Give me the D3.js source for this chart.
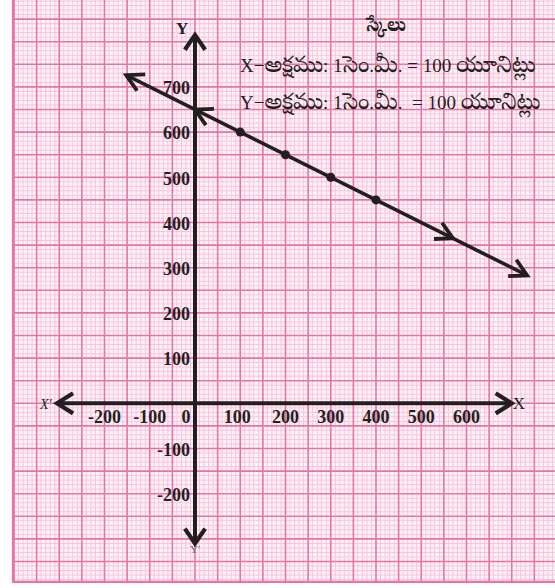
<!DOCTYPE html>
<html>
<head>
<meta charset="utf-8">
<script src="https://cdn.jsdelivr.net/npm/d3@7"></script>
<style>
  html, body { margin: 0; padding: 0; background: #ffffff; }
  svg { display: block; }
  .tick-label { font-family: "Liberation Serif", "Times New Roman", serif; font-weight: bold; font-size: 18px; fill: #231f20; }
  .scale-text { font-family: "Liberation Serif", "Noto Serif Telugu", "Noto Sans Telugu", serif; font-size: 19px; fill: #231f20; }
</style>
</head>
<body>
<svg id="chart" width="555" height="588"></svg>
<script>
// Plotted points of the line (x, y)
const pointX = [100, 200, 300, 400];
const pointY = [600, 550, 500, 450];

// Where the drawn line starts and stops, in axis units
const rayX = [-152, 734];
const rayY = [726, 283];

// Direction arrows placed along the line
const midArrowX = [0, 570];
const midArrowY = [650, 365];

// Axis tick labels
const xTicks = [-200, -100, 0, 100, 200, 300, 400, 500, 600];
const yTicks = [-200, -100, 100, 200, 300, 400, 500, 600, 700];

// Axis extents (arrow tips)
const xAxisEnds = [-305, 700];
const yAxisEnds = [-310, 815];

// Graph paper extents
const paperX = [-402, 800];
const paperY = [-395, 900];

// Scale legend
const scaleTitle = "స్కేలు";
const scaleLines = [
  "X−అక్షము: 1సెం.మీ. = 100 యూనిట్లు",
  "Y−అక్షము: 1సెం.మీ.  = 100 యూనిట్లు"
];

const svg = d3.select("#chart");

// 100 units = 1 cm on both axes
const x = d3.scaleLinear().domain([0, 100]).range([195, 240.25]);
const y = d3.scaleLinear().domain([0, 100]).range([403.3, 358.1]);

// ---- graph paper ----
const paper = svg.append("g");
const px0 = x(paperX[0]), px1 = x(paperX[1]);
const py0 = y(paperY[1]), py1 = y(paperY[0]);
paper.append("rect")
  .attr("x", px0).attr("y", py0)
  .attr("width", px1 - px0).attr("height", py1 - py0)
  .attr("fill", "#fff2f7");

const vLines = d3.range(-400, 801, 10);
const hLines = d3.range(-390, 901, 10);
const minorColor = "#f8c4dc", majorColor = "#e972a6";

function gridLines(major) {
  paper.selectAll(null)
    .data(vLines.filter(v => (v % 50 === 0) === major))
    .join("line")
    .attr("x1", d => x(d)).attr("x2", d => x(d))
    .attr("y1", py0).attr("y2", py1)
    .attr("stroke", major ? majorColor : minorColor)
    .attr("stroke-width", major ? 1.6 : 1);
  paper.selectAll(null)
    .data(hLines.filter(v => (v % 50 === 0) === major))
    .join("line")
    .attr("y1", d => y(d)).attr("y2", d => y(d))
    .attr("x1", px0).attr("x2", px1)
    .attr("stroke", major ? majorColor : minorColor)
    .attr("stroke-width", major ? 1.6 : 1);
}
gridLines(false);
gridLines(true);

// paper border (left and bottom)
paper.append("path")
  .attr("d", `M${px0},${py0} L${px0},${py1} L${px1},${py1}`)
  .attr("fill", "none")
  .attr("stroke", majorColor)
  .attr("stroke-width", 2.4);

// ---- helpers ----
const ink = "#231f20";
function chevron(g, tx, ty, angle, len, half, width) {
  const a1 = angle + Math.PI - half, a2 = angle + Math.PI + half;
  g.append("path")
    .attr("d", `M${tx + len * Math.cos(a1)},${ty + len * Math.sin(a1)} L${tx},${ty} L${tx + len * Math.cos(a2)},${ty + len * Math.sin(a2)}`)
    .attr("fill", "none")
    .attr("stroke", ink)
    .attr("stroke-width", width)
    .attr("stroke-linecap", "butt")
    .attr("stroke-linejoin", "miter");
}

// ---- axes ----
const axes = svg.append("g");
axes.append("line")
  .attr("x1", x(xAxisEnds[0])).attr("x2", x(xAxisEnds[1]))
  .attr("y1", y(0)).attr("y2", y(0))
  .attr("stroke", ink).attr("stroke-width", 4);
axes.append("line")
  .attr("x1", x(0)).attr("x2", x(0))
  .attr("y1", y(yAxisEnds[0])).attr("y2", y(yAxisEnds[1]))
  .attr("stroke", ink).attr("stroke-width", 4);
chevron(axes, x(xAxisEnds[1]), y(0), 0, 19, 0.56, 4.2);
chevron(axes, x(xAxisEnds[0]), y(0), Math.PI, 19, 0.56, 4.2);
chevron(axes, x(0), y(yAxisEnds[1]), -Math.PI / 2, 18, 0.6, 4.2);
chevron(axes, x(0), y(yAxisEnds[0]), Math.PI / 2, 18, 0.6, 4.2);

// tick labels
axes.selectAll(null)
  .data(xTicks)
  .join("text")
  .attr("class", "tick-label")
  .attr("x", d => x(d) + (d === 0 ? -9 : d === 100 ? -3 : 0))
  .attr("y", y(0) + 20)
  .attr("text-anchor", "middle")
  .text(d => d);
axes.selectAll(null)
  .data(yTicks)
  .join("text")
  .attr("class", "tick-label")
  .attr("x", x(0) - 5)
  .attr("y", d => y(d) + 1)
  .attr("dy", "0.35em")
  .attr("text-anchor", "end")
  .text(d => d);

// axis names
const serif = '"Liberation Serif", "Times New Roman", serif';
axes.append("text").attr("x", x(xAxisEnds[1]) + 1).attr("y", y(0) + 6)
  .attr("font-family", serif).attr("font-size", 17).attr("fill", ink).text("X");
axes.append("text").attr("x", x(xAxisEnds[0]) - 17).attr("y", y(0) + 6)
  .attr("font-family", serif).attr("font-size", 14).attr("font-style", "italic").attr("fill", ink).text("X′");
axes.append("text").attr("x", x(0) - 19).attr("y", y(yAxisEnds[1]) - 1)
  .attr("font-family", serif).attr("font-size", 17).attr("font-weight", "bold").attr("fill", ink).text("Y");
axes.append("text").attr("x", x(0) - 5).attr("y", y(yAxisEnds[0]) + 10)
  .attr("font-family", serif).attr("font-size", 11).attr("fill", "#6d6466").text("Y′");

// ---- the line ----
const plot = svg.append("g");
plot.append("line")
  .attr("x1", x(rayX[0])).attr("y1", y(rayY[0]))
  .attr("x2", x(rayX[1])).attr("y2", y(rayY[1]))
  .attr("stroke", ink).attr("stroke-width", 3.6);

const lineAngle = Math.atan2(y(rayY[1]) - y(rayY[0]), x(rayX[1]) - x(rayX[0]));
chevron(plot, x(rayX[1]), y(rayY[1]), lineAngle, 19, 0.5, 3.8);
chevron(plot, x(rayX[0]), y(rayY[0]), lineAngle + Math.PI, 19, 0.5, 3.8);
chevron(plot, x(midArrowX[0]), y(midArrowY[0]), lineAngle + Math.PI, 19, 0.5, 3.8);
chevron(plot, x(midArrowX[1]), y(midArrowY[1]), lineAngle, 19, 0.5, 3.8);

plot.selectAll(null)
  .data(pointX.map((d, i) => [d, pointY[i]]))
  .join("circle")
  .attr("cx", d => x(d[0])).attr("cy", d => y(d[1]))
  .attr("r", 4.5)
  .attr("fill", ink);

// ---- scale legend ----
// Telugu runs are set a little larger than the Latin runs
const teluguRun = /[\u0C00-\u0C7F]+|[^\u0C00-\u0C7F]+/g;
function setRuns(sel, str, teluguSize) {
  (str.match(teluguRun) || []).forEach(run => {
    const isTelugu = /[\u0C00-\u0C7F]/.test(run);
    sel.append("tspan")
      .attr("font-size", isTelugu ? teluguSize : null)
      .attr("xml:space", "preserve")
      .style("white-space", "pre")
      .text(run);
  });
}

const legend = svg.append("g");
legend.append("text")
  .attr("class", "scale-text")
  .attr("x", 386).attr("y", 31)
  .attr("text-anchor", "middle")
  .attr("font-weight", "bold")
  .attr("font-size", 18)
  .text(scaleTitle);
legend.selectAll(null)
  .data(scaleLines)
  .join("text")
  .attr("class", "scale-text")
  .attr("x", 240)
  .attr("y", (d, i) => 72 + i * 37)
  .style("white-space", "pre")
  .each(function (d) { setRuns(d3.select(this), d, 23); });
</script>
</body>
</html>
